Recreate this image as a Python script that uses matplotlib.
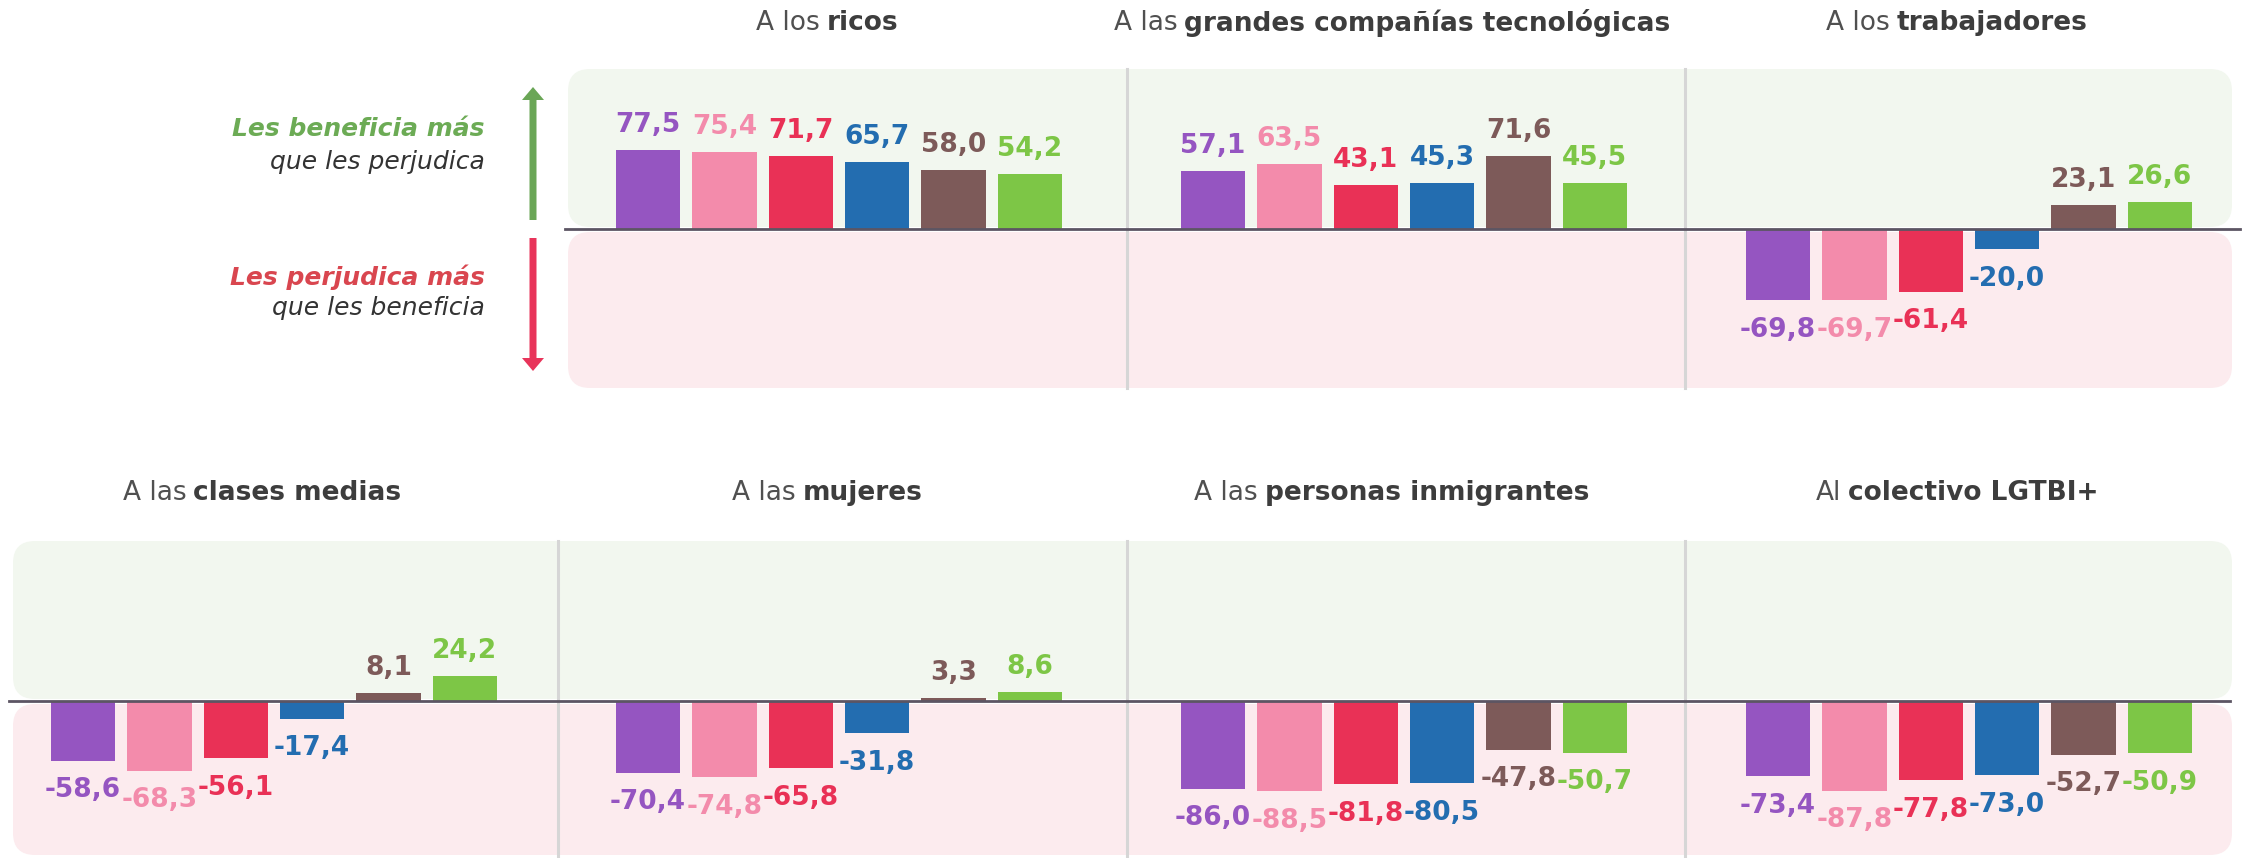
import matplotlib.pyplot as plt
from matplotlib.patches import FancyBboxPatch, FancyArrow

plt.rcParams['font.family'] = ['DejaVu Sans']

# --- data ---
title_prefix = ['A los', 'A las', 'A los', 'A las', 'A las', 'A las', 'Al']
title_bold = ['ricos', 'grandes compañías tecnológicas', 'trabajadores',
              'clases medias', 'mujeres', 'personas inmigrantes', 'colectivo LGTBI+']
values = [
    [77.5, 75.4, 71.7, 65.7, 58.0, 54.2],
    [57.1, 63.5, 43.1, 45.3, 71.6, 45.5],
    [-69.8, -69.7, -61.4, -20.0, 23.1, 26.6],
    [-58.6, -68.3, -56.1, -17.4, 8.1, 24.2],
    [-70.4, -74.8, -65.8, -31.8, 3.3, 8.6],
    [-86.0, -88.5, -81.8, -80.5, -47.8, -50.7],
    [-73.4, -87.8, -77.8, -73.0, -52.7, -50.9],
]
bar_colors = ['#9555c1', '#f38bab', '#e93156', '#236db0', '#7d5a59', '#7dc646']
# row, column of each panel
panel_pos = [(0, 1), (0, 2), (0, 3), (1, 0), (1, 1), (1, 2), (1, 3)]

# --- layout (figure pixels, origin top-left) ---
W, H = 2244, 858
fig = plt.figure(figsize=(W / 100, H / 100), dpi=100)
col_center = [274 + 565 * i for i in range(4)]
row_top = [69, 541]
row_zero = [229, 701]
row_bottom = [388, 858]
k = 1.02  # px per unit

bg = fig.add_axes([0, 0, 1, 1], zorder=0)
bg.set_xlim(0, W)
bg.set_ylim(H, 0)
bg.axis('off')

fg = fig.add_axes([0, 0, 1, 1], zorder=3)
fg.set_xlim(0, W)
fg.set_ylim(H, 0)
fg.axis('off')
fg.patch.set_alpha(0)

green_bg = '#f2f7ef'
pink_bg = '#fcebee'
for x0, (t, z, b) in zip([568, 13], zip(row_top, row_zero, row_bottom)):
    bg.add_patch(FancyBboxPatch((x0, t), 2232 - x0, z - 2 - t,
                                boxstyle='round,pad=0,rounding_size=22',
                                fc=green_bg, ec='none'))
    bg.add_patch(FancyBboxPatch((x0, z + 3), 2232 - x0, min(b, 855) - z - 3,
                                boxstyle='round,pad=0,rounding_size=22',
                                fc=pink_bg, ec='none'))

for x in [1127, 1685]:
    bg.plot([x, x], [row_top[0], row_bottom[0]], color='#d6d6d6', lw=2.2)
for x in [558, 1127, 1685]:
    bg.plot([x, x], [row_top[1], row_bottom[1]], color='#d6d6d6', lw=2.2)

fg.plot([565, 2240], [row_zero[0], row_zero[0]], color='#5c5563', lw=2)
fg.plot([9, 2230], [row_zero[1], row_zero[1]], color='#5c5563', lw=2)

renderer = fig.canvas.get_renderer()


def mixed_title(xc, y, pre, bold):
    t1 = bg.text(0, y, pre, fontsize=19, color='#505050', va='center', ha='left')
    t2 = bg.text(0, y, bold, fontsize=19, color='#3d3d3d', weight='bold',
                 va='center', ha='left')
    w1 = t1.get_window_extent(renderer).width
    w2 = t2.get_window_extent(renderer).width
    gap = 7
    start = xc - (w1 + gap + w2) / 2
    t1.set_x(start)
    t2.set_x(start + w1 + gap)


title_y = [23, 493]
x_idx = list(range(6))
for vals, pre, bold, (r, c) in zip(values, title_prefix, title_bold, panel_pos):
    xc = col_center[c]
    left = xc - 282.5
    ax = fig.add_axes([left / W, 1 - row_bottom[r] / H, 565 / W,
                       (row_bottom[r] - row_top[r]) / H], zorder=1)
    ax.set_xlim(-1.2, 6.2)
    ax.set_ylim(-(row_bottom[r] - row_zero[r]) / k, (row_zero[r] - row_top[r]) / k)
    ax.axis('off')
    ax.patch.set_alpha(0)
    ax.bar(x_idx, vals, width=0.84, color=bar_colors)
    for i, v in enumerate(vals):
        txt = f'{v:.1f}'.replace('.', ',')
        if v >= 0:
            ax.annotate(txt, (i, v), xytext=(0, 13), textcoords='offset points',
                        ha='center', va='baseline', fontsize=19, weight='bold',
                        color=bar_colors[i])
        else:
            ax.annotate(txt, (i, v), xytext=(0, -12), textcoords='offset points',
                        ha='center', va='top', fontsize=19, weight='bold',
                        color=bar_colors[i])
    mixed_title(xc - 12, title_y[r], pre, bold)

# --- side legend ---
bg.add_patch(FancyArrow(533, 220, 0, -133, width=7, head_width=22, head_length=13,
                        length_includes_head=True, color='#6aa656', lw=0))
bg.add_patch(FancyArrow(533, 238, 0, 133, width=7, head_width=22, head_length=13,
                        length_includes_head=True, color='#e8345a', lw=0))
bg.text(485, 129, 'Les beneficia más', ha='right', va='center', fontsize=18,
        style='italic', weight='bold', color='#6cab55')
bg.text(485, 162, 'que les perjudica', ha='right', va='center', fontsize=18,
        style='italic', color='#333333')
bg.text(485, 277, 'Les perjudica más', ha='right', va='center', fontsize=18,
        style='italic', weight='bold', color='#d9464f')
bg.text(485, 308, 'que les beneficia', ha='right', va='center', fontsize=18,
        style='italic', color='#333333')

fig.savefig('out.png', dpi=100)
